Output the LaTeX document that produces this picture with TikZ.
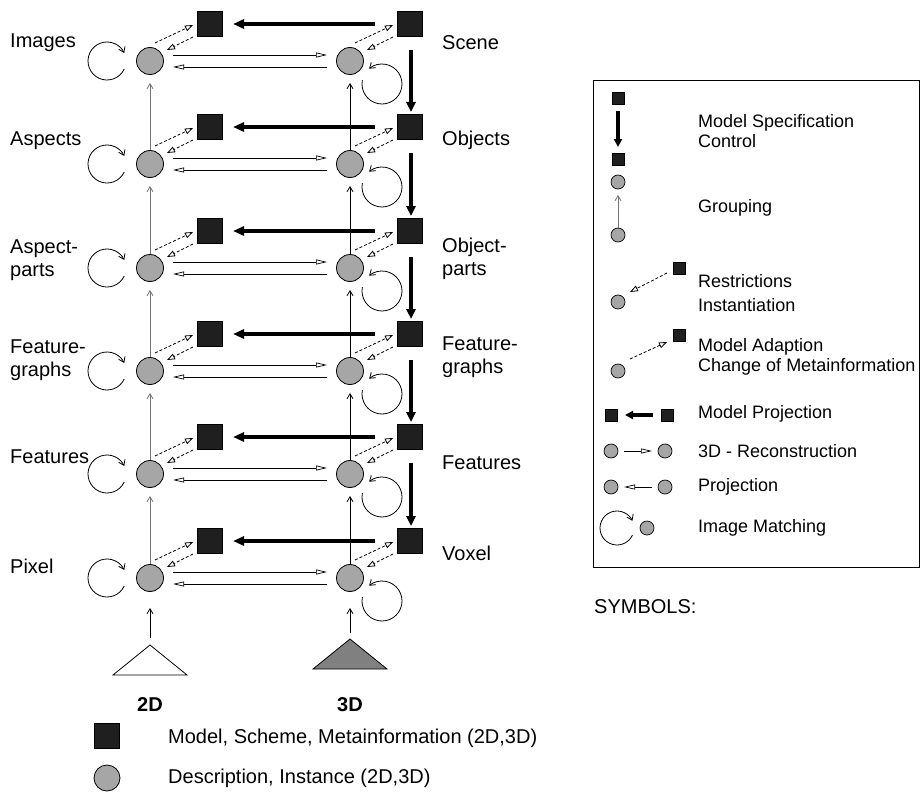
\documentclass[tikz,border=0pt]{standalone}
\usepackage{fontspec}
\setmainfont{Liberation Sans}
\usetikzlibrary{arrows.meta,calc}
\begin{document}
\begin{tikzpicture}[x=1pt,y=-1pt,
  sq/.style={draw=black, fill=black!88, minimum size=25pt, inner sep=0pt, line width=0.6pt},
  ci/.style={circle, draw=black, fill=black!35, minimum size=27pt, inner sep=0pt, line width=0.8pt},
  lsq/.style={draw=black, fill=black!88, minimum size=12pt, inner sep=0pt, line width=0.5pt},
  lci/.style={circle, draw=black, fill=black!35, minimum size=14pt, inner sep=0pt, line width=0.7pt},
  harr/.style={line width=0.7pt, -{Triangle[open,length=11pt,width=5pt]}},
  darr/.style={line width=0.8pt, dash pattern=on 3pt off 2pt, -{Triangle[open,length=8pt,width=6pt]}},
  varr/.style={line width=0.8pt, -{Straight Barb[length=5pt,width=6pt]}},
  varrg/.style={varr, draw=black!55},
  tarr/.style={line width=4pt, -{Triangle[length=11pt,width=9pt]}},
  tvarr/.style={line width=3.5pt, -{Triangle[length=10pt,width=9pt]}},
  ltarr/.style={line width=3.5pt, -{Triangle[length=8pt,width=8pt]}},
  loopl/.style={line width=0.8pt, -{Straight Barb[length=5pt,width=7pt]}},
  lab/.style={anchor=west, inner sep=0pt, align=left, font=\fontsize{20}{23}\selectfont},
  lt/.style={anchor=west, inner sep=0pt, font=\fontsize{18}{20}\selectfont}
]
\useasboundingbox (0,0) rectangle (920,797);

% rows
\foreach \i/\c in {1/61,2/164,3/268,4/371,5/474,6/578} {
  \node[ci] (L\i) at (150,\c) {};
  \node[ci] (R\i) at (350,\c) {};
  \node[sq] (SL\i) at (210,{\c-37}) {};
  \node[sq] (SR\i) at (410,{\c-37}) {};
  \draw[tarr] ($(SR\i)+(-35,0)$) -- ($(SL\i)+(23,0)$);
  \draw[harr] ($(L\i)+(23,-6)$) -- ($(R\i)+(-23,-6)$);
  \draw[harr] ($(R\i)+(-23,6)$) -- ($(L\i)+(23,6)$);
  \draw[darr] ($(L\i)+(5,-18)$) -- ($(SL\i)+(-17,1)$);
  \draw[darr] ($(SL\i)+(-17,13)$) -- ($(L\i)+(17,-11)$);
  \draw[darr] ($(R\i)+(5,-18)$) -- ($(SR\i)+(-17,1)$);
  \draw[darr] ($(SR\i)+(-17,13)$) -- ($(R\i)+(17,-11)$);
  \draw[loopl] ($(L\i)+(-43,0)+(25:19)$) arc[start angle=25,end angle=335,radius=19];
  \draw[loopl] ($(R\i)+(32,23)+(-169:20)$) arc[start angle=-169,end angle=-490,radius=20];
}
\foreach \i/\j in {1/2,2/3,3/4,4/5,5/6} {
  \draw[varrg] (L\j.north) -- ($(L\i)+(0,22)$);
  \draw[varr] (R\j.north) -- ($(R\i)+(0,22)$);
  \draw[tvarr] ($(SR\i)+(1,26)$) -- ($(SR\j)+(1,-15)$);
}

% triangles
\coordinate (TL) at (150,645);
\coordinate (TR) at (350,639);
\draw[line width=0.8pt, fill=white] (TL) -- ++(-37,30) -- ++(74,0) -- cycle;
\draw[line width=0.8pt, fill=black!50] (TR) -- ++(-37,30) -- ++(74,0) -- cycle;
\draw[varr] ($(TL)+(0,-7)$) -- ($(L6)+(0,30)$);
\draw[varr] ($(TR)+(0,-6)$) -- ($(R6)+(0,30)$);

% left labels
\node[lab] (tImages) at (10,43) {Images};
\node[lab] (tAspects) at (10,141) {Aspects};
\node[lab] (tAparts) at (10,260) {Aspect-\\parts};
\node[lab] (tFgraphs2) at (10,360) {Feature-\\graphs};
\node[lab] (tFeat2) at (10,457) {Features};
\node[lab] (tPixel) at (10,566) {Pixel};
% right labels
\node[lab] (tScene) at (442,43) {Scene};
\node[lab] (tObjects) at (442,140) {Objects};
\node[lab] (tOparts) at (442,259) {Object-\\parts};
\node[lab] (tFgraphs3) at (442,357) {Feature-\\graphs};
\node[lab] (tFeat3) at (442,463) {Features};
\node[lab] (tVoxel) at (442,553) {Voxel};

% bottom legend
\node[font=\fontsize{20}{23}\selectfont\bfseries, inner sep=0pt] (t2D) at (150,705) {2D};
\node[font=\fontsize{20}{23}\selectfont\bfseries, inner sep=0pt] (t3D) at (350,705) {3D};
\node[sq] (bsq) at (107,736) {};
\node[ci, minimum size=26pt] (bci) at (107,778) {};
\node[lab] (tModel) at (168,738) {Model, Scheme, Metainformation (2D,3D)};
\node[lab] (tDesc) at (168,778) {Description, Instance (2D,3D)};

% symbols box
\node[draw, line width=0.8pt, minimum width=326pt, minimum height=487pt, anchor=north west, inner sep=0pt] (box) at (593,80) {};
\node[lab] (tSym) at (594,607) {SYMBOLS:};

\node[lsq] (m1) at (618,98) {};
\node[lsq] (m2) at (618,159) {};
\draw[ltarr] ($(m1)+(0,13)$) -- ($(m2)+(0,-12)$);
\node[lt] (tMS) at (698,123) {Model Specification};
\node[lt] (tCtl) at (698,141) {Control};

\node[lci] (g1) at (618,182) {};
\node[lci] (g2) at (618,235) {};
\draw[varrg] (g2.north) -- ($(g1)+(0,13)$);
\node[lt] (tGr) at (698,208) {Grouping};

\node[lsq] (r1) at (679,268) {};
\node[lci] (r2) at (618,302) {};
\draw[darr] ($(r1)+(-12,5)$) -- ($(r2)+(12,-10)$);
\node[lt] (tRes) at (698,281) {Restrictions};
\node[lt] (tInst) at (698,305) {Instantiation};

\node[lsq] (a1) at (679,335) {};
\node[lci] (a2) at (618,371) {};
\draw[darr] ($(a2)+(12,-12)$) -- ($(a1)+(-12,7)$);
\node[lt] (tMA) at (698,347) {Model Adaption};
\node[lt] (tCM) at (698,367) {Change of Metainformation};

\node[lsq] (p1) at (611,415) {};
\node[lsq] (p2) at (667,415) {};
\draw[ltarr] ($(p2)+(-14,0)$) -- ($(p1)+(14,0)$);
\node[lt] (tMP) at (698,414) {Model Projection};

\node[lci] (c1) at (611,451) {};
\node[lci] (c2) at (665,451) {};
\draw[harr] ($(c1)+(13,0)$) -- ($(c2)+(-13,0)$);
\node[lt] (t3R) at (698,451) {3D - Reconstruction};

\node[lci] (c3) at (611,487) {};
\node[lci] (c4) at (665,487) {};
\draw[harr] ($(c4)+(-13,0)$) -- ($(c3)+(13,0)$);
\node[lt] (tPr) at (698,487) {Projection};

\node[lci] (c5) at (647,528) {};
\draw[loopl] ($(c5)+(-30,0)+(25:17)$) arc[start angle=25,end angle=335,radius=17];
\node[lt] (tIM) at (698,528) {Image Matching};
\end{tikzpicture}
\end{document}
